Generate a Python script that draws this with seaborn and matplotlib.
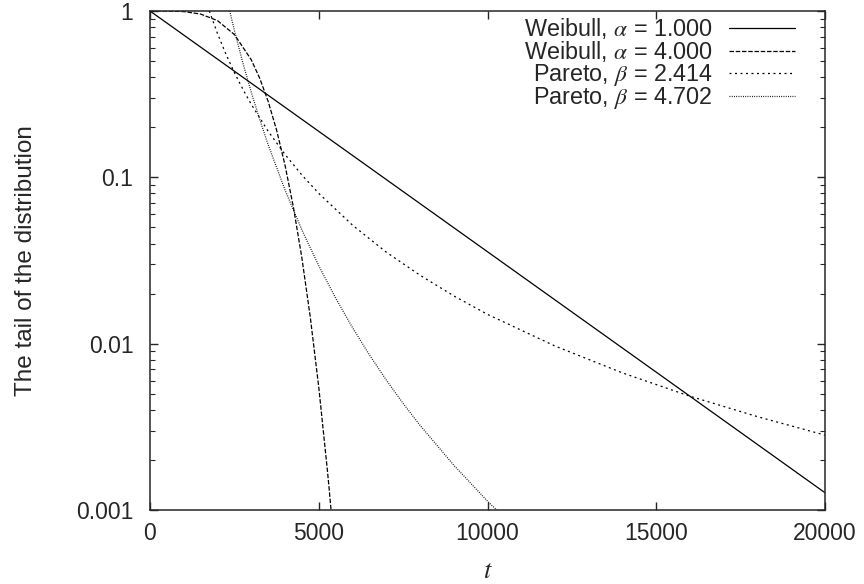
import pandas as pd
import matplotlib.pyplot as plt
import seaborn as sns

# values
weib1_t = [0, 5000, 10000, 15000, 20000]
weib1_v = [1.0, 0.189, 0.0357, 0.00674, 0.00127]

weib4_t = [0, 500, 1000, 1500, 2000, 2500, 3000, 3250, 3500, 3750, 4000, 4250,
           4500, 4750, 5000, 5250, 5300, 5500]
weib4_v = [1.0, 0.9995, 0.9917, 0.9587, 0.8752, 0.7222, 0.5093, 0.3947, 0.2865,
           0.1925, 0.1185, 0.0660, 0.0328, 0.01439, 0.00548, 0.00178, 0.00140,
           0.00049]

par1_t = [1757, 2000, 2250, 2500, 2750, 3000, 3500, 4000, 4500, 5000, 6000, 7000,
          8000, 9000, 10000, 12000, 14000, 16000, 18000, 20000]
par1_v = [1.0, 0.7314, 0.5505, 0.4268, 0.3391, 0.2749, 0.1895, 0.1373, 0.1033,
          0.0801, 0.0516, 0.0355, 0.0258, 0.01938, 0.0150, 0.00968, 0.00667,
          0.00483, 0.00364, 0.00282]

par2_t = [2362, 2500, 2750, 3000, 3250, 3500, 4000, 4500, 5000, 5500, 6000, 6500,
          7000, 7500, 8000, 9000, 10000, 11000]
par2_v = [1.0, 0.7657, 0.4891, 0.3249, 0.2230, 0.1573, 0.0840, 0.0483, 0.0294,
          0.0188, 0.01249, 0.00857, 0.00605, 0.00437, 0.00323, 0.00186, 0.00113,
          0.00072]

labels = [r"Weibull, $\alpha$ = 1.000", r"Weibull, $\alpha$ = 4.000",
          r"Pareto, $\beta$ = 2.414", r"Pareto, $\beta$ = 4.702"]
dashes = ["-", (0, (3.6, 1.4)), (0, (1.6, 2.8)), (0, (0.7, 1.1))]

sns.set_style("ticks")
plt.rcParams["font.family"] = ["Liberation Sans", "DejaVu Sans"]
plt.rcParams["mathtext.fontset"] = "stix"

fig = plt.figure(figsize=(8.64, 5.84), dpi=100)
ax = fig.add_axes([150 / 864, 1 - 510 / 584, 675 / 864, 499 / 584])

series = [(weib1_t, weib1_v), (weib4_t, weib4_v), (par1_t, par1_v), (par2_t, par2_v)]
for (t, v), lab, ls in zip(series, labels, dashes):
    sns.lineplot(x=t, y=v, ax=ax, color="black", linewidth=0.9, linestyle=ls,
                 label=lab, sort=False, estimator=None)

ax.set_yscale("log")
ax.set_xlim(0, 20000)
ax.set_ylim(0.001, 1)
ax.set_xticks([0, 5000, 10000, 15000, 20000])
ax.set_yticks([0.001, 0.01, 0.1, 1])
ax.set_yticklabels(["0.001", "0.01", "0.1", "1"])
ax.tick_params(which="both", direction="in", top=True, right=True, labelsize=16.5)
ax.tick_params(axis="x", which="minor", bottom=False, top=False)
ax.tick_params(which="major", length=6, width=1)
ax.tick_params(axis="x", which="major", pad=9)
ax.tick_params(axis="y", which="major", pad=12)
ax.tick_params(which="minor", length=3.5, width=0.8)
for s in ax.spines.values():
    s.set_linewidth(1.1)
    s.set_visible(True)

ax.set_xlabel("$t$", fontsize=19)
ax.xaxis.set_label_coords(0.5, -0.098)
ax.set_ylabel("The tail of the distribution", fontsize=17.5)
ax.yaxis.set_label_coords(-0.167, 0.5)

leg = ax.legend(loc="upper right", bbox_to_anchor=(0.969, 1.008), frameon=False,
                markerfirst=False, fontsize=16.8, handlelength=2.8,
                handletextpad=0.72, labelspacing=-0.1, borderaxespad=0,
                borderpad=0.4)
leg._legend_handle_box.get_children()[0].align = "right"

fig.savefig("out.png", dpi=100)
